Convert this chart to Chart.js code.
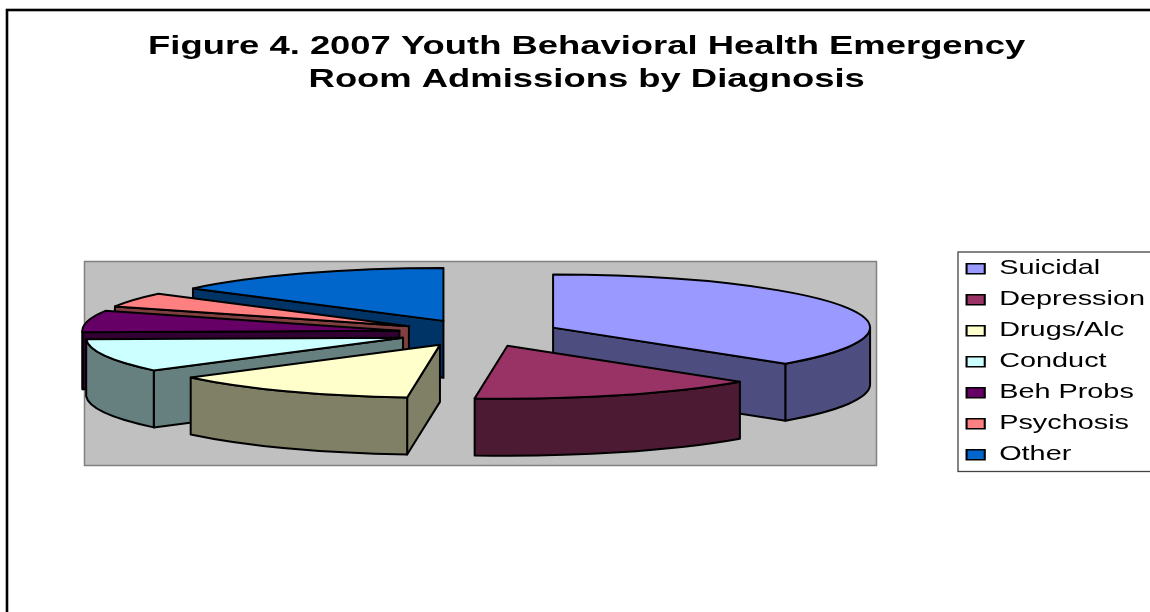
<!DOCTYPE html>
<html><head><meta charset="utf-8">
<style>html,body{margin:0;padding:0;background:#fff}canvas{display:block}</style>
<script src="https://cdn.jsdelivr.net/npm/chart.js@4"></script>
</head><body>
<canvas id="c" width="1150" height="612"></canvas>
<script>
const titleLines = ['Figure 4. 2007 Youth Behavioral Health Emergency', 'Room Admissions by Diagnosis'];
const categories = ['Suicidal', 'Depression', 'Drugs/Alc', 'Conduct', 'Beh Probs', 'Psychosis', 'Other'];
const shares = [36.9, 14.75, 12.75, 10.1, 6.6, 4.4, 14.5];
const topColors = ['#9999FF', '#993366', '#FFFFCC', '#CCFFFF', '#660066', '#FF8080', '#0066CC'];
const wallColors = ['#4D4D80', '#4D1A33', '#808066', '#668080', '#330033', '#804040', '#003366'];

const RADIUS = 200, EXPLODE = 51;           // flat pie, before tilting
const RX = 317, RY = 53, DEPTH = 57;        // tilted look
const TEXT_STRETCH = 1.4;
const SX = RX / RADIUS, SY = RY / RADIUS;

function geom(el) {
  const mid = (el.startAngle + el.endAngle) / 2;
  const dx = Math.cos(mid) * EXPLODE, dy = Math.sin(mid) * EXPLODE;
  return {dx, dy, cx: el.x + dx * SX, cy: el.y + dy * SY, a0: el.startAngle, a1: el.endAngle};
}
const pt = (g, a) => [g.cx + RX * Math.cos(a), g.cy + RY * Math.sin(a)];

function paint(ctx, fill) {
  ctx.fillStyle = fill; ctx.fill();
  ctx.strokeStyle = '#000'; ctx.lineWidth = 2; ctx.lineJoin = 'round'; ctx.stroke();
}
function cutFace(ctx, g, a, fill) {
  const p = pt(g, a);
  ctx.beginPath();
  ctx.moveTo(g.cx, g.cy); ctx.lineTo(p[0], p[1]);
  ctx.lineTo(p[0], p[1] + DEPTH); ctx.lineTo(g.cx, g.cy + DEPTH);
  ctx.closePath(); paint(ctx, fill);
}
function rimWall(ctx, g, fill) {
  const a = Math.max(g.a0, 0), b = Math.min(g.a1, Math.PI);
  if (b <= a) return;
  ctx.beginPath();
  ctx.ellipse(g.cx, g.cy, RX, RY, 0, a, b);
  ctx.ellipse(g.cx, g.cy + DEPTH, RX, RY, 0, b, a, true);
  ctx.closePath(); paint(ctx, fill);
}

const pie3d = {
  id: 'pie3d',
  beforeDraw(chart) {
    const ctx = chart.ctx;
    ctx.save();
    ctx.fillStyle = '#fff'; ctx.fillRect(0, 0, 1150, 612);
    ctx.strokeStyle = '#000'; ctx.lineWidth = 2.6; ctx.strokeRect(7, 10, 1300, 800);
    ctx.fillStyle = '#C0C0C0'; ctx.fillRect(84.5, 261.5, 792, 204);
    ctx.strokeStyle = '#808080'; ctx.lineWidth = 1.5; ctx.strokeRect(84.5, 261.5, 792, 204);
    ctx.strokeStyle = '#444'; ctx.lineWidth = 1.3; ctx.strokeRect(958, 252, 300, 219.5);
    ctx.restore();
  },
  afterLayout(chart) {
    const lg = chart.legend;
    lg.left = 952; lg.right = 1150; lg.top = 248; lg.bottom = 480;
    for (const [box, ax, to] of [[lg, 952, 952], [chart.titleBlock, 479, 586.7]]) {
      if (box._wrapped) continue;
      const orig = box.draw;
      box._wrapped = true;
      box.draw = function (area) {
        const ctx = chart.ctx;
        ctx.save();
        ctx.translate(to, 0); ctx.scale(TEXT_STRETCH, 1); ctx.translate(-ax, 0);
        orig.call(box, area);
        ctx.restore();
      };
    }
  },
  beforeDatasetsDraw(chart) {
    const ctx = chart.ctx;
    const arcs = chart.getDatasetMeta(0).data;
    const order = arcs.map((el, i) => ({el, i, g: geom(el)}))
      .sort((p, q) => p.g.cy - q.g.cy);
    for (const {el, i, g} of order) {
      if (Math.sin(g.a0 + Math.PI / 2) < -1e-6) cutFace(ctx, g, g.a0, wallColors[i]);
      if (Math.sin(g.a1 + Math.PI / 2) > 1e-6) cutFace(ctx, g, g.a1, wallColors[i]);
      rimWall(ctx, g, wallColors[i]);
      // top face: the library's own arc, tilted and pulled out of the pie
      ctx.save();
      ctx.translate(el.x, el.y); ctx.scale(SX, SY); ctx.translate(g.dx - el.x, g.dy - el.y);
      el.draw(ctx);
      ctx.restore();
      ctx.beginPath();
      ctx.moveTo(g.cx, g.cy);
      ctx.ellipse(g.cx, g.cy, RX, RY, 0, g.a0, g.a1);
      ctx.closePath();
      ctx.strokeStyle = '#000'; ctx.lineWidth = 2; ctx.lineJoin = 'round'; ctx.stroke();
    }
    return false;
  }
};

new Chart(document.getElementById('c'), {
  type: 'pie',
  data: {
    labels: categories,
    datasets: [{data: shares, backgroundColor: topColors, borderWidth: 0, offset: 0, hoverOffset: 0}]
  },
  plugins: [pie3d],
  options: {
    responsive: false,
    animation: false,
    radius: RADIUS,
    layout: {padding: {left: 0, right: 192, top: 0, bottom: 42}},
    plugins: {
      tooltip: {enabled: false},
      title: {
        display: true,
        text: titleLines,
        color: '#000',
        font: {family: '"Liberation Sans", Arial, sans-serif', size: 26, weight: 'bold', lineHeight: 1.27},
        padding: {top: 30, bottom: 0}
      },
      legend: {
        position: 'chartArea',
        align: 'start',
        labels: {
          color: '#000',
          font: {family: '"Liberation Sans", Arial, sans-serif', size: 20.6, lineHeight: 1.2},
          boxWidth: 13, boxHeight: 10, padding: 10.4,
          generateLabels(chart) {
            return chart.data.labels.map((t, i) => ({
              text: t, index: i, hidden: false,
              fillStyle: topColors[i], strokeStyle: '#000', lineWidth: 1.5
            }));
          }
        }
      }
    }
  }
});
</script>
</body></html>
